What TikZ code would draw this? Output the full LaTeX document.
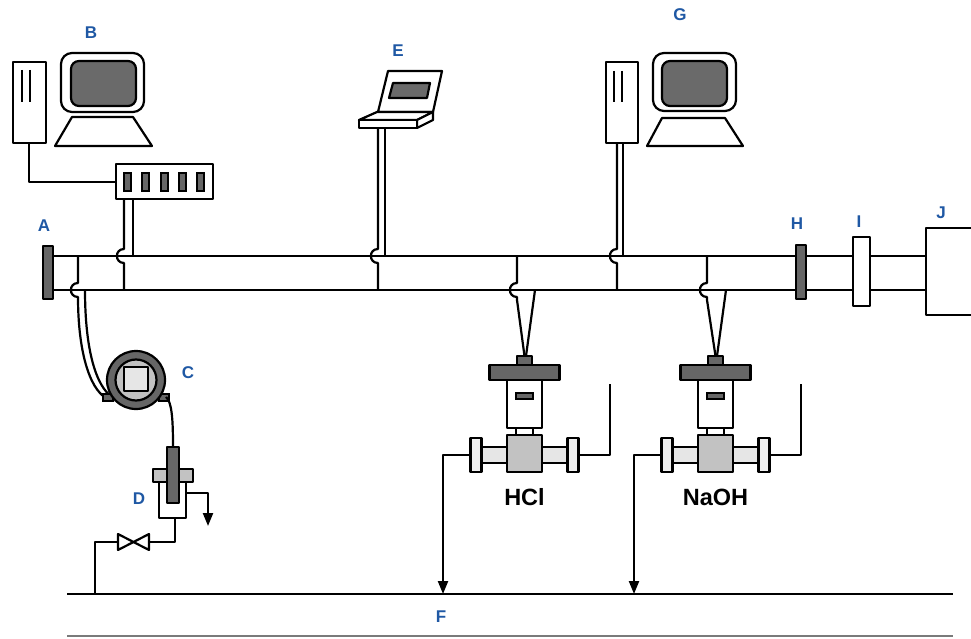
\documentclass[tikz,border=0pt]{standalone}
\usepackage{fontspec}
\setmainfont{Liberation Sans}
\usetikzlibrary{arrows.meta}

\definecolor{lblue}{HTML}{1F58A4}
\definecolor{darkg}{HTML}{666666}
\definecolor{screeng}{HTML}{6A6A6A}
\definecolor{midg}{HTML}{C2C2C2}
\definecolor{lightg}{HTML}{E6E6E6}
\definecolor{rulegray}{HTML}{7A7A7A}

% a wire that jumps over a horizontal line at (#1,#2)
\newcommand\hopover[2]{-- (#1,#2-7) .. controls (#1-9.5,#2-7) and (#1-9.5,#2+7) .. (#1,#2+7)}

\tikzset{
  wire/.style={line width=2.2pt, line join=round},
  part/.style={draw, line width=2.2pt, line join=round},
  thinpart/.style={draw, line width=1.5pt},
  tag/.style={text=lblue, inner sep=0pt, font=\bfseries\fontsize{17}{17}\selectfont},
  medium/.style={inner sep=0pt, font=\bfseries\fontsize{23.5}{23.5}\selectfont},
  flow/.style={wire, -{Triangle[length=13pt,width=10pt]}},
}

\begin{document}
\begin{tikzpicture}[x=1pt,y=-1pt]
\clip (0,0) rectangle (971,639);

% ---------- field bus (two conductors) ----------
\coordinate (busTL) at (53,256);  \coordinate (busTR) at (926,256);
\coordinate (busBL) at (53,290);  \coordinate (busBR) at (926,290);
\draw[wire] (busTL) -- (busTR);
\draw[wire] (busBL) -- (busBR);

% ---------- B: workstation, tower and hub ----------
\draw[part] (13,62) rectangle (46,143);
\draw[line width=1.5pt] (22,70) -- (22,102) (30,70) -- (30,102);
\draw[part, rounded corners=11pt] (61,53) rectangle (144,112);
\draw[part, fill=screeng, rounded corners=8pt] (71,61) rectangle (136,106);
\draw[part] (72,117) -- (133,117) -- (152,146) -- (55,146) -- cycle;
\node[part, minimum width=97pt, minimum height=35pt, inner sep=0pt] (hub) at (164.5,181.5) {};
\foreach \sx in {124,142,161,179,197}
  \draw[thinpart, fill=darkg] (\sx,173) rectangle (\sx+7,191);
\coordinate (towerB) at (29,143);
\draw[wire] (towerB) -- (29,182) -- (hub.west |- 0,182);
\draw[wire] (133,199) -- (133,256);
\draw[wire] (124,199) \hopover{124}{256} -- (124,290);

% ---------- E: laptop on a stand ----------
\draw[wire] (385,128) -- (385,256);
\draw[wire] (378,128) \hopover{378}{256} -- (378,290);
\draw[part, fill=white] (378,112) -- (388,71) -- (442,71) -- (433,112) -- cycle;
\draw[part, fill=screeng] (389,98) -- (393,83) -- (430,83) -- (427,98) -- cycle;
\draw[part, fill=white] (359,120) -- (377,112) -- (433,112) -- (417,120) -- cycle;
\draw[part, fill=white] (417,120) -- (433,112) -- (433,120) -- (417,128) -- cycle;
\draw[part, fill=white] (359,120) rectangle (417,128);

% ---------- G: workstation and tower ----------
\draw[part] (606,62) rectangle (638,143);
\draw[line width=1.5pt] (614,71) -- (614,102) (622,71) -- (622,102);
\draw[part, rounded corners=11pt] (653,53) rectangle (736,111);
\draw[part, fill=screeng, rounded corners=8pt] (662,61) rectangle (727,106);
\draw[part] (662,118) -- (725,118) -- (743,146) -- (647,146) -- cycle;
\draw[wire] (623,143) -- (623,256);
\draw[wire] (617,143) \hopover{617}{256} -- (617,290);

% ---------- C: transmitter cable from the bus ----------
\draw[wire] (78,256) \hopover{78}{290} -- (78,297) .. controls (78,350) and (89,388) .. (106,398);
\draw[wire] (85,290) .. controls (85,350) and (96,386) .. (112,397);

% ---------- C: transmitter ----------
\draw[thinpart, fill=darkg] (103,394) rectangle (113,401);
\draw[thinpart, fill=darkg] (159,394) rectangle (169,401);
\draw[part, fill=darkg] (136,380) circle (29);
\draw[part, fill=midg] (136,380) circle (20.5);
\draw[part, fill=lightg] (124,367) rectangle (148,391);
\coordinate (cOut) at (166,397);
\coordinate (probeTop) at (173,447);
\draw[wire] (cOut) .. controls (172,402) and (173,420) .. (probeTop);

% ---------- D: sensor in flow cell ----------
\draw[part, fill=white] (159,482) rectangle (186,518);
\draw[part, fill=midg] (153,469) rectangle (193,482);
\draw[part, fill=darkg] (167,447) rectangle (179,503);
\draw[flow] (186,493) -- (208,493) -- (208,526);
\draw[wire] (175,518) -- (175,542) -- (149,542);
\draw[part, fill=white] (149,534) -- (149,550) -- (133.5,542) -- cycle;
\draw[part, fill=white] (118,534) -- (118,550) -- (133.5,542) -- cycle;
\draw[wire] (118,542) -- (95,542) -- (95,594);

% ---------- dosing valves ----------
\foreach \cx/\medname/\rung/\tap in {524.5/HCl/517/535, 715.5/NaOH/707/726} {
  \draw[wire] (\rung,256) \hopover{\rung}{290} -- (\rung,300) -- (\cx,356);
  \draw[wire] (\tap,290) -- (\cx+1.5,356);
  \draw[part, fill=darkg] (\cx-7.5,356) rectangle (\cx+7.5,365);
  \draw[part, fill=darkg] (\cx-35,365) rectangle (\cx+35,380);
  \draw[part, fill=white] (\cx-17.5,380) rectangle (\cx+17.5,428);
  \draw[thinpart, fill=darkg] (\cx-8.5,393) rectangle (\cx+8.5,399);
  \draw[part, fill=white] (\cx-8.5,428) rectangle (\cx+8.5,435);
  \draw[part, fill=lightg] (\cx-43,447) rectangle (\cx+43,463);
  \draw[part, fill=midg] (\cx-17.5,435) rectangle (\cx+17.5,472);
  \draw[part, fill=lightg!60!white] (\cx-54,438) rectangle (\cx-43,472);
  \draw[part, fill=lightg!60!white] (\cx+43,438) rectangle (\cx+54,472);
  \draw[flow] (\cx-54,455) -- (\cx-81.5,455) -- (\cx-81.5,594);
  \draw[wire] (\cx+54,455) -- (\cx+85.5,455) -- (\cx+85.5,384);
  \node[medium] at (\cx,497) {\medname};
}

% ---------- flanges, analyser and tank ----------
\draw[part, fill=darkg] (43,246) rectangle (53,299);
\draw[part, fill=darkg] (796,245) rectangle (806,299);
\draw[part, fill=white] (853,237) rectangle (870,306);
\draw[part, fill=white] (926,228) rectangle (990,315);

% ---------- F: process line ----------
\coordinate (fL) at (67,594); \coordinate (fR) at (953,594);
\draw[line width=2.8pt] (fL) -- (fR);
\draw[line width=2.4pt, rulegray] (67,636) -- (953,636);

% ---------- labels ----------
\node[tag] (labA) at (44,226) {A};
\node[tag] (labB) at (91,33) {B};
\node[tag] (labC) at (188,373) {C};
\node[tag] (labD) at (139,499) {D};
\node[tag] (labE) at (398,51) {E};
\node[tag] (labF) at (441,617) {F};
\node[tag] (labG) at (680,15) {G};
\node[tag] (labH) at (797,224) {H};
\node[tag] (labI) at (859,222) {I};
\node[tag] (labJ) at (941,213) {J};
\end{tikzpicture}
\end{document}
